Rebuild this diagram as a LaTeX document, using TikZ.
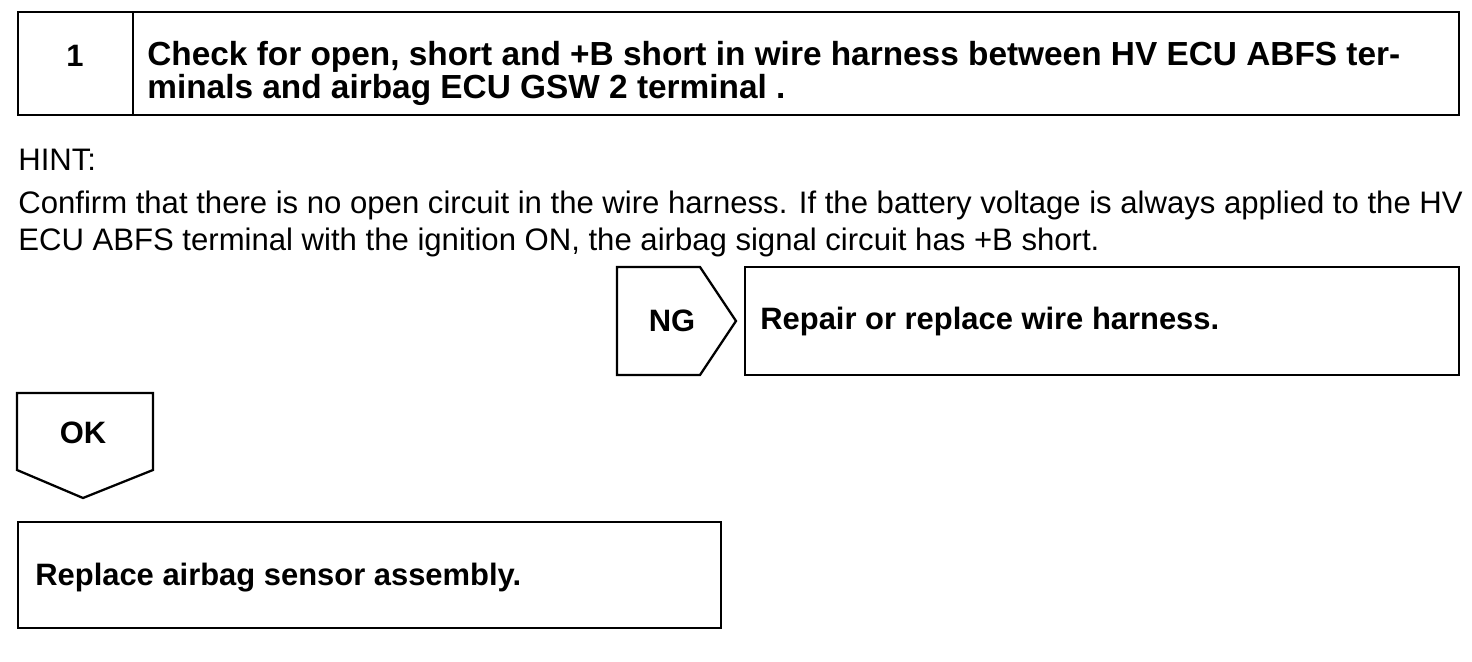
\documentclass[tikz,border=0pt]{standalone}
\usepackage{fontspec}
\setmainfont{Liberation Sans}
\usetikzlibrary{positioning,calc}

\begin{document}
\begin{tikzpicture}[x=0.02cm,y=-0.02cm,
  frame/.style={draw,line width=1.3pt},
  bold/.style={font=\fontsize{17.6}{19}\selectfont\bfseries,inner sep=0pt},
  title/.style={font=\fontsize{19}{18.8}\selectfont\bfseries,inner sep=0pt,align=left},
  plain/.style={font=\fontsize{17.7}{21}\selectfont,inner sep=0pt,align=left}]

  \useasboundingbox (0,0) rectangle (1472,662);

  % step header
  \draw[frame] (18,12) rectangle (1459,115);
  \draw[frame] (133,12) -- (133,115);
  \node[bold] (stepnum) at (75,56) {1};
  \node[title,anchor=west] (steptext) at (147,73)
    {Check for open, short and +B short in wire harness between HV ECU ABFS ter-\\
     minals and airbag ECU GSW 2 terminal .};

  % hint
  \node[plain,anchor=west] (hint) at (18,160) {HINT:};
  \node[plain,anchor=west] (hinttext) at (18,224)
    {Confirm that there is no open circuit in the wire harness. If the battery voltage is always applied to the HV\\
     ECU ABFS terminal with the ignition ON, the airbag signal circuit has +B short.};

  % NG branch
  \draw[frame] (617,267) -- (700,267) -- (736,321) -- (700,375) -- (617,375) -- cycle;
  \node[bold] (ng) at (672,321) {NG};
  \draw[frame] (745,267) rectangle (1459,375);
  \node[bold,anchor=west] (repair) at (760,322) {Repair or replace wire harness.};

  % OK branch
  \draw[frame] (17,393) -- (153,393) -- (153,470) -- (83,498) -- (17,470) -- cycle;
  \node[bold] (ok) at (83,433) {OK};
  \draw[frame] (18,522) rectangle (721,628);
  \node[bold,anchor=west] (replace) at (35,578) {Replace airbag sensor assembly.};
\end{tikzpicture}
\end{document}
